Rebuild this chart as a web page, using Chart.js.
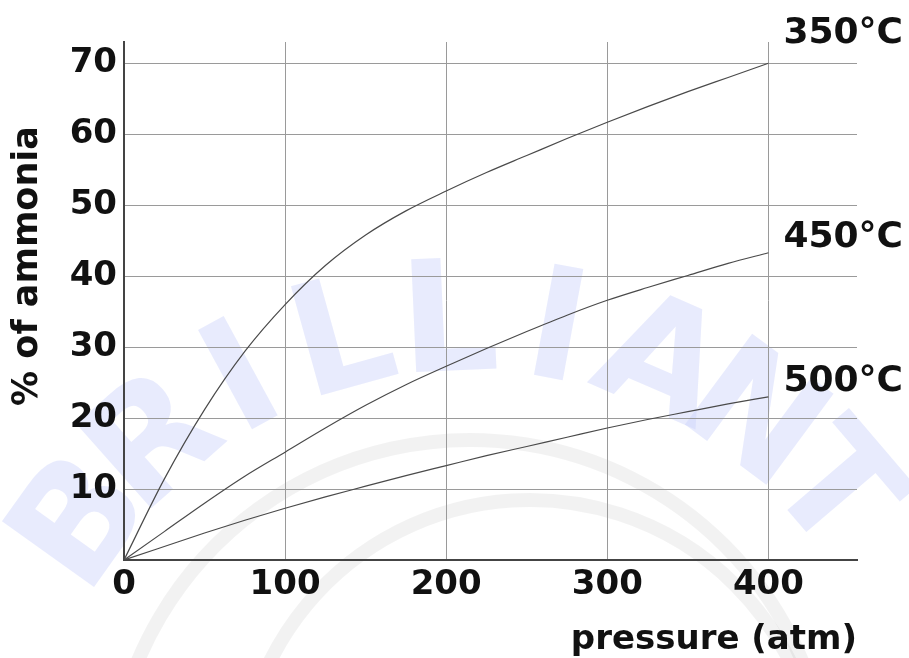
<!DOCTYPE html>
<html>
<head>
<meta charset="utf-8">
<script src="https://cdn.jsdelivr.net/npm/chart.js@4/dist/chart.umd.min.js"></script>
<style>
  html, body { margin: 0; padding: 0; background: #fff; }
  #wrap { width: 909px; height: 658px; position: relative; }
</style>
</head>
<body>
<div id="wrap"><canvas id="ammoniaChart"></canvas></div>
<script>
const pressures = [0, 25, 50, 75, 100, 125, 150, 175, 200, 225, 250, 275, 300, 325, 350, 375, 400];
// % of ammonia at each temperature
const yield350 = [0, 11.4, 21.2, 29.4, 36, 41.5, 45.8, 49.2, 52, 54.6, 57, 59.4, 61.7, 63.9, 66, 68, 70];
const yield450 = [0, 4, 8, 11.8, 15.2, 18.6, 21.8, 24.7, 27.3, 29.8, 32.2, 34.5, 36.6, 38.4, 40.1, 41.8, 43.3];
const yield500 = [0, 1.9, 3.8, 5.6, 7.3, 8.9, 10.4, 11.9, 13.3, 14.7, 16.0, 17.3, 18.6, 19.8, 20.9, 22.0, 23.0];
const curveNames = ["350°C", "450°C", "500°C"];

const xTicks = [0, 100, 200, 300, 400];
const yTicks = [10, 20, 30, 40, 50, 60, 70];

const FONT = "'DejaVu Sans', Arial, sans-serif";

function toPoints(ys) {
    return pressures.map((p, i) => ({ x: p, y: ys[i] }));
}

// faint "BRILLIANT" stamp behind the grid
const watermark = {
    id: "watermark",
    beforeDraw(chart) {
        const ctx = chart.ctx;
        ctx.save();
        ctx.strokeStyle = "rgba(0,0,0,0.05)";
        ctx.lineWidth = 14;
        ctx.beginPath();
        ctx.arc(470, 800, 360, Math.PI * 1.05, Math.PI * 1.95);
        ctx.stroke();
        ctx.beginPath();
        ctx.arc(530, 790, 290, Math.PI * 1.1, Math.PI * 1.9);
        ctx.stroke();

        const letters = "BRILLIANT".split("");
        const cx = 470, cy = 800, r = 470;
        const a0 = -144.5, step = 13;
        ctx.fillStyle = "rgba(205, 210, 250, 0.45)";
        ctx.font = "bold 155px " + FONT;
        ctx.textAlign = "center";
        ctx.textBaseline = "middle";
        letters.forEach((ch, i) => {
            const a = (a0 + step * i) * Math.PI / 180;
            ctx.save();
            ctx.translate(cx + r * Math.cos(a), cy + r * Math.sin(a));
            ctx.rotate(a + Math.PI / 2);
            ctx.fillText(ch, 0, 0);
            ctx.restore();
        });
        ctx.restore();
    }
};

// temperature labels next to the line ends + the rotated y title
const curveLabels = {
    id: "curveLabels",
    afterDatasetsDraw(chart) {
        const ctx = chart.ctx;
        const offsets = [-30, -15, -15];
        ctx.save();
        ctx.fillStyle = "#111";
        ctx.font = "bold 36px " + FONT;
        ctx.textAlign = "left";
        ctx.textBaseline = "middle";
        chart.data.datasets.forEach((ds, i) => {
            const meta = chart.getDatasetMeta(i);
            const last = meta.data[meta.data.length - 1];
            ctx.fillText(curveNames[i], last.x + 15, last.y + offsets[i]);
        });

        ctx.font = "bold 35px " + FONT;
        ctx.translate(28, 266);
        ctx.rotate(-Math.PI / 2);
        ctx.textAlign = "center";
        ctx.fillText("% of ammonia", 0, 0);
        ctx.restore();
    }
};

const ctx = document.getElementById("ammoniaChart").getContext("2d");

new Chart(ctx, {
    type: "line",
    data: {
        datasets: [yield350, yield450, yield500].map((ys, i) => ({
            label: curveNames[i],
            data: toPoints(ys),
            borderColor: "#4a4a4a",
            borderWidth: 1.2,
            pointRadius: 0,
            fill: false,
            cubicInterpolationMode: "monotone",
        })),
    },
    options: {
        responsive: true,
        maintainAspectRatio: false,
        animation: false,
        events: [],
        layout: {
            padding: { top: 42, right: 52, left: 0, bottom: 0 },
        },
        plugins: {
            legend: { display: false },
            tooltip: { enabled: false },
        },
        scales: {
            x: {
                type: "linear",
                min: 0,
                max: 455,
                afterBuildTicks: (axis) => { axis.ticks = xTicks.map(v => ({ value: v })); },
                afterFit: (axis) => { axis.height = 98; },
                ticks: {
                    color: "#111",
                    padding: 5,
                    maxRotation: 0,
                    font: { size: 34, weight: "bold", family: FONT },
                },
                grid: {
                    color: "#9a9a9a",
                    lineWidth: 1,
                    drawTicks: false,
                },
                border: { color: "#444", width: 2 },
                title: {
                    display: true,
                    text: "pressure (atm)",
                    align: "end",
                    color: "#111",
                    padding: { top: 0, bottom: 0 },
                    font: { size: 34, weight: "bold", family: FONT, lineHeight: 1.05 },
                },
            },
            y: {
                min: 0,
                max: 73,
                afterBuildTicks: (axis) => { axis.ticks = yTicks.map(v => ({ value: v })); },
                afterFit: (axis) => { axis.width = 124; },
                ticks: {
                    color: "#111",
                    padding: 7,
                    font: { size: 34, weight: "bold", family: FONT },
                },
                grid: {
                    color: "#9a9a9a",
                    lineWidth: 1,
                    drawTicks: false,
                },
                border: { color: "#444", width: 2 },
            },
        },
    },
    plugins: [watermark, curveLabels],
});
</script>
</body>
</html>
